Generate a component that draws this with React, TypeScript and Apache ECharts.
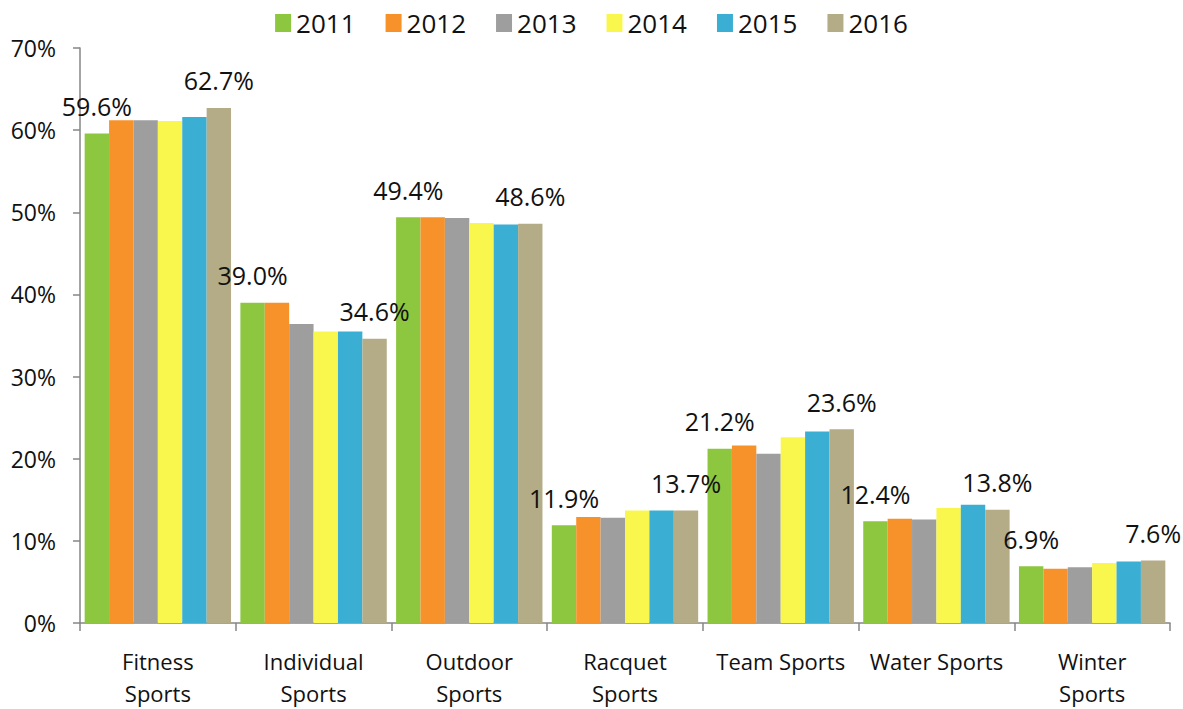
import React, { useEffect, useRef } from "react";
import * as echarts from "echarts";

const categories = [
  "Fitness\nSports",
  "Individual\nSports",
  "Outdoor\nSports",
  "Racquet\nSports",
  "Team Sports",
  "Water Sports",
  "Winter\nSports",
];
const years = ["2011", "2012", "2013", "2014", "2015", "2016"];
const v2011 = [59.6, 39.0, 49.4, 11.9, 21.2, 12.4, 6.9];
const v2012 = [61.2, 39.0, 49.4, 12.9, 21.6, 12.7, 6.6];
const v2013 = [61.2, 36.4, 49.3, 12.8, 20.6, 12.6, 6.8];
const v2014 = [61.1, 35.5, 48.7, 13.7, 22.6, 14.0, 7.3];
const v2015 = [61.6, 35.5, 48.5, 13.7, 23.3, 14.4, 7.5];
const v2016 = [62.7, 34.6, 48.6, 13.7, 23.6, 13.8, 7.6];
const seriesValues = [v2011, v2012, v2013, v2014, v2015, v2016];
const colors = ["#8DC63F", "#F7922A", "#9E9E9E", "#F9F74E", "#3AAED3", "#B3AC86"];
const labeledYears = ["2011", "2016"];

const FONT = "'Open Sans', 'Liberation Sans', sans-serif";

export default function App() {
  const ref = useRef<HTMLDivElement>(null);
  useEffect(() => {
    if (!ref.current) return;
    const chart = echarts.init(ref.current, undefined, { renderer: "svg" });
    chart.setOption({
      animation: false,
      backgroundColor: "#ffffff",
      textStyle: { fontFamily: FONT },
      legend: {
        top: 5,
        left: "center",
        itemWidth: 16,
        itemHeight: 18,
        itemGap: 30,
        icon: "rect",
        textStyle: { fontSize: 26, color: "#111", fontFamily: FONT },
        data: years,
      },
      grid: { left: 80, right: 13, top: 48, bottom: 84, containLabel: false },
      xAxis: {
        type: "category",
        data: categories,
        axisLine: { lineStyle: { color: "#868686", width: 1.5 } },
        axisTick: { show: true, length: 8, lineStyle: { color: "#868686", width: 1.5 } },
        axisLabel: {
          fontSize: 22,
          color: "#111",
          lineHeight: 32,
          margin: 22,
          interval: 0,
          fontFamily: FONT,
        },
      },
      yAxis: {
        type: "value",
        min: 0,
        max: 70,
        interval: 10,
        axisLine: { show: true, lineStyle: { color: "#868686", width: 1.5 } },
        axisTick: { show: true, length: 7, lineStyle: { color: "#868686", width: 1.5 } },
        splitLine: { show: false },
        axisLabel: {
          formatter: "{value}%",
          fontSize: 23,
          color: "#111",
          margin: 24,
          fontFamily: FONT,
        },
      },
      series: years.map((y, i) => ({
        name: y,
        type: "bar",
        data: seriesValues[i],
        barGap: "0%",
        barCategoryGap: "6%",
        itemStyle: { color: colors[i] },
        label: {
          show: labeledYears.includes(y),
          position: "top",
          distance: 15,
          fontSize: 25,
          color: "#111",
          fontFamily: FONT,
          formatter: (p: any) => p.value.toFixed(1) + "%",
        },
      })),
    });
    return () => chart.dispose();
  }, []);
  return (
    <div
      ref={ref}
      style={{ position: "fixed", left: 0, top: 0, width: 1183, height: 709 }}
    />
  );
}
